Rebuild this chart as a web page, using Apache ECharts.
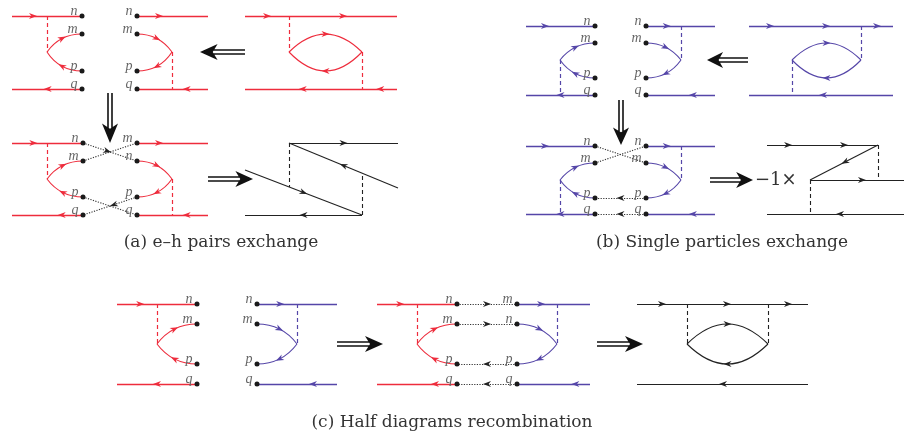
<!DOCTYPE html>
<html><head><meta charset="utf-8">
<script src="https://cdn.jsdelivr.net/npm/echarts/dist/echarts.min.js"></script>
<style>html,body{margin:0;padding:0;background:#fff}#c{width:904px;height:439px}</style>
</head><body><div id="c"></div>
<script>
// ---------- diagram data (diagram coordinates, y downward) ----------
// straight fermion lines in flow direction: [x1, y1, x2, y2, [arrow fractions]]
const redLines = [
  [12,16,82,16,[0.3]], [82,89,12,89,[0.49]], [137,16,208,16,[0.31]], [208,89,137,89,[0.3]],
  [245,16,397,16,[0.145,0.645]], [397,89,245,89,[0.11,0.62]],
  [12,143,83,143,[0.3]], [83,215,12,215,[0.3]], [137,143,208,143,[0.31]], [208,215,137,215,[0.3]],
  [117,304,197,304,[0.29]], [197,384,117,384,[0.5]], [377,304,457,304,[0.29]], [457,384,377,384,[0.275]]
];
const blueLines = [
  [526,26,595,26,[0.275]], [595,95,526,95,[0.5]], [646,26,715,26,[0.3]], [715,95,646,95,[0.32]],
  [749,26,893,26,[0.146,0.535,0.889]], [893,95,749,95,[0.486]],
  [526,146,595,146,[0.275]], [595,214,526,214,[0.5]], [646,146,715,146,[0.3]], [715,214,646,214,[0.32]],
  [257,304,337,304,[0.29]], [337,384,257,384,[0.3]], [517,304,590,304,[0.33]], [590,384,517,384,[0.2]]
];
const blackLines = [
  [289,143,398,143,[0.5]], [398,188,289,143,[0.5]], [245,170,362,215,[0.5]], [362,215,245,215,[0.5]],
  [767,145,878,145,[0.19,0.694]], [878,145,810,180,[0.485]], [810,180,904,180,[0.553]], [904,214,767,214,[0.467]],
  [637,304,808,304,[0.146,0.526,0.883]], [808,384,637,384,[0.497]]
];
// curved lines in flow direction: [x1, y1, x2, y2, curveness], arrow at middle
const redArcs = [
  [47,52,82,34,0.26], [82,71,47,52,0.27], [137,34,172,52,0.257], [172,52,137,71,0.27],
  [289,52,362,52,0.49], [362,52,289,52,0.52],
  [47,179,83,161,0.25], [83,197,47,179,0.25], [137,161,172,179,0.257], [172,179,137,197,0.257],
  [157,344,197,324,0.25], [197,364,157,344,0.25], [417,344,457,324,0.25], [457,364,417,344,0.25]
];
const blueArcs = [
  [560,60,595,43,0.243], [595,78,560,60,0.257], [646,43,681,60,0.243], [681,60,646,78,0.257],
  [792,60,861,60,0.493], [861,60,792,60,0.52],
  [560,180,595,163,0.243], [595,198,560,180,0.257], [646,163,681,180,0.243], [681,180,646,198,0.257],
  [257,324,297,344,0.25], [297,344,257,364,0.25], [517,324,557,344,0.25], [557,344,517,364,0.25]
];
const blackArcs = [
  [687,344,768,344,0.494], [768,344,687,344,0.494]
];
// interaction (dashed) lines: [x1, y1, x2, y2]
const redDashed = [
  [47,16,47,52], [172,52,172,89], [289,16,289,52], [362,52,362,89],
  [47,143,47,179], [172,179,172,215], [157,304,157,344], [417,304,417,344]
];
const blueDashed = [
  [560,60,560,95], [681,26,681,60], [861,26,861,60], [792,60,792,95],
  [560,180,560,214], [681,146,681,180], [297,304,297,344], [557,304,557,344]
];
const blackDashed = [
  [289,143,289,187], [362,215,362,173], [878,145,878,180], [810,180,810,214],
  [687,304,687,344], [768,304,768,344]
];
// dotted contractions: [x1, y1, x2, y2, [arrow fractions]]
const dottedLines = [
  [83,143,137,161,[0.45]], [83,161,137,143,[]], [137,197,83,215,[0.43]], [83,197,137,215,[]],
  [595,146,646,163,[]], [595,163,646,146,[]], [646,198,595,198,[0.5]], [646,214,595,214,[0.5]],
  [457,304,517,304,[0.5]], [457,324,517,324,[0.5]], [517,364,457,364,[0.5]], [517,384,457,384,[0.5]]
];
// external points: [x, y, label]
const dots = [
  [82,16,'n'],[82,34,'m'],[82,71,'p'],[82,89,'q'],[137,16,'n'],[137,34,'m'],[137,71,'p'],[137,89,'q'],
  [83,143,'n'],[83,161,'m'],[83,197,'p'],[83,215,'q'],[137,143,'m'],[137,161,'n'],[137,197,'p'],[137,215,'q'],
  [595,26,'n'],[595,43,'m'],[595,78,'p'],[595,95,'q'],[646,26,'n'],[646,43,'m'],[646,78,'p'],[646,95,'q'],
  [595,146,'n'],[595,163,'m'],[595,198,'p'],[595,214,'q'],[646,146,'n'],[646,163,'m'],[646,198,'p'],[646,214,'q'],
  [197,304,'n'],[197,324,'m'],[197,364,'p'],[197,384,'q'],[257,304,'n'],[257,324,'m'],[257,364,'p'],[257,384,'q'],
  [457,304,'n'],[457,324,'m'],[457,364,'p'],[457,384,'q'],[517,304,'m'],[517,324,'n'],[517,364,'p'],[517,384,'q']
];
// big implication arrows: [tailX, tailY, tipX, tipY]
const bigArrows = [
  [245,52,200,52], [110,93,110,143], [208,179,253,179],
  [748,60,707,60], [621,100,621,145], [710,180,753,180],
  [337,344,383,344], [597,344,643,344]
];
const captionTexts = ['(a) e–h pairs exchange', '(b) Single particles exchange', '(c) Half diagrams recombination'];
const factorText = '−1×';

// ---------- build ----------
const RED = '#ee2c3c', BLUE = '#5546a8', BLACK = '#222';
const ARROW = 'path://M0,0 L10,4 L0,8 L3,4 Z';
const BIG = 'path://M0,5.2 L33,5.2 L33,6.8 L0,6.8 Z M0,9.2 L33,9.2 L33,10.8 L0,10.8 Z M28,0 L46,8 L28,16 L33,8 Z';
const deg = (dx, dy) => Math.atan2(-dy, dx) * 180 / Math.PI;

function lineArrows(arr) {
  const out = [];
  arr.forEach(a => (a[4] || []).forEach(t => {
    out.push({ value: [a[0] + t * (a[2] - a[0]), a[1] + t * (a[3] - a[1])], symbolRotate: deg(a[2] - a[0], a[3] - a[1]) });
  }));
  return out;
}
function arcArrows(arr) {
  return arr.map(a => {
    const [x1, y1, x2, y2, c] = a;
    const cx = (x1 + x2) / 2 - (y1 - y2) * c, cy = (y1 + y2) / 2 - (x2 - x1) * c;
    return { value: [0.25 * x1 + 0.5 * cx + 0.25 * x2, 0.25 * y1 + 0.5 * cy + 0.25 * y2], symbolRotate: deg(x2 - x1, y2 - y1) };
  });
}
function linesSeries(arr, color, width, type, curved) {
  return {
    type: 'lines', coordinateSystem: 'cartesian2d', silent: true, animation: false,
    lineStyle: { color, width, type, opacity: 1, curveness: 0 },
    data: arr.map(a => curved
      ? { coords: [[a[0], a[1]], [a[2], a[3]]], lineStyle: { curveness: a[4] } }
      : { coords: [[a[0], a[1]], [a[2], a[3]]] })
  };
}
function arrowSeries(data, color, size) {
  return { type: 'scatter', silent: true, animation: false, symbol: ARROW, symbolSize: size || [8, 6],
    itemStyle: { color, opacity: 1 }, data, z: 5 };
}

const series = [
  linesSeries(redLines, RED, 1.3, 'solid'),
  linesSeries(blueLines, BLUE, 1.3, 'solid'),
  linesSeries(blackLines, BLACK, 1.1, 'solid'),
  linesSeries(redArcs, RED, 1.1, 'solid', true),
  linesSeries(blueArcs, BLUE, 1.1, 'solid', true),
  linesSeries(blackArcs, BLACK, 1.1, 'solid', true),
  linesSeries(redDashed, RED, 1.2, [4, 3]),
  linesSeries(blueDashed, BLUE, 1.2, [4, 3]),
  linesSeries(blackDashed, BLACK, 1.1, [4, 3]),
  linesSeries(dottedLines, '#333', 1.1, [1.2, 1.4]),
  arrowSeries(lineArrows(redLines).concat(arcArrows(redArcs)), RED),
  arrowSeries(lineArrows(blueLines).concat(arcArrows(blueArcs)), BLUE),
  arrowSeries(lineArrows(blackLines).concat(arcArrows(blackArcs)), BLACK),
  arrowSeries(lineArrows(dottedLines), '#222'),
  {
    type: 'scatter', silent: true, animation: false, symbol: 'circle', symbolSize: 5, z: 6,
    itemStyle: { color: '#1a1a1a', opacity: 1 },
    label: { show: true, position: 'left', distance: 2, offset: [0, -5], formatter: p => p.data[2],
      fontFamily: 'Liberation Serif', fontStyle: 'italic', fontSize: 14, color: '#666' },
    data: dots
  },
  {
    type: 'scatter', silent: true, animation: false, z: 6, symbol: BIG,
    itemStyle: { color: '#111', opacity: 1 },
    data: bigArrows.map(a => ({
      value: [(a[0] + a[2]) / 2, (a[1] + a[3]) / 2],
      symbolSize: [Math.hypot(a[2] - a[0], a[3] - a[1]), 16],
      symbolRotate: deg(a[2] - a[0], a[3] - a[1])
    }))
  }
];

const chart = echarts.init(document.getElementById('c'), null, { renderer: 'canvas' });
const capFont = { fontFamily: 'DejaVu Serif', fontSize: 17, fill: '#333' };
chart.setOption({
  backgroundColor: '#fff',
  animation: false,
  grid: { left: 0, right: 0, top: 0, bottom: 0, containLabel: false },
  xAxis: { type: 'value', min: 0, max: 904, show: false },
  yAxis: { type: 'value', min: 0, max: 439, inverse: true, show: false },
  series,
  graphic: [
    { type: 'text', style: Object.assign({ text: captionTexts[0], x: 221, y: 243, align: 'center', verticalAlign: 'middle' }, capFont) },
    { type: 'text', style: Object.assign({ text: captionTexts[1], x: 722, y: 243, align: 'center', verticalAlign: 'middle' }, capFont) },
    { type: 'text', style: Object.assign({ text: captionTexts[2], x: 452, y: 423, align: 'center', verticalAlign: 'middle' }, capFont) },
    { type: 'text', style: Object.assign({ text: factorText, x: 755, y: 180, align: 'left', verticalAlign: 'middle' }, capFont, { fontSize: 18 }) }
  ]
});
</script></body></html>
